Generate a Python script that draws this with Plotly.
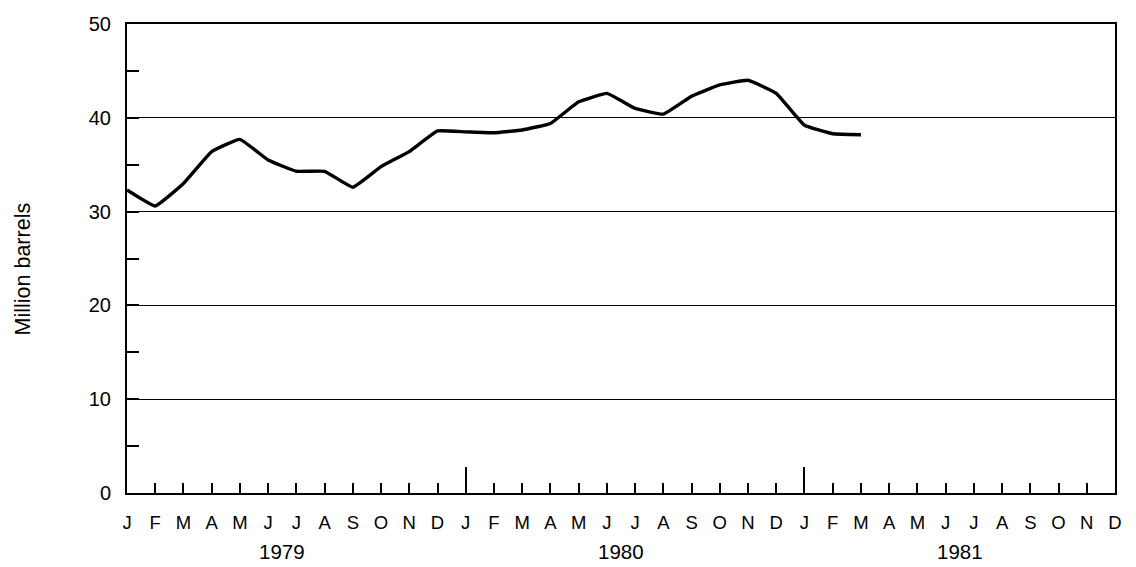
import plotly.graph_objects as go

months = ["J", "F", "M", "A", "M", "J", "J", "A", "S", "O", "N", "D"] * 3
years = ["1979", "1980", "1981"]
month_index = list(range(36))
stocks = [32.3, 30.6, 33.0, 36.4, 37.7, 35.5, 34.3, 34.3, 32.6, 34.8, 36.4, 38.6,
          38.5, 38.4, 38.7, 39.4, 41.7, 42.6, 41.0, 40.4, 42.3, 43.5, 44.0, 42.6,
          39.2, 38.3, 38.2]
year_starts = [0, 12, 24]
y_title = "Million barrels"

font = "Liberation Sans, Arial, sans-serif"

fig = go.Figure()
fig.add_trace(go.Scatter(
    x=month_index[:len(stocks)], y=stocks, mode="lines",
    line=dict(color="black", width=3.4, shape="spline", smoothing=0.3),
    showlegend=False, hoverinfo="skip"))
# invisible trace to carry the secondary axis (long January ticks)
fig.add_trace(go.Scatter(x=[0, 35], y=[0, 0], mode="lines", xaxis="x2",
                         line=dict(width=0), showlegend=False, hoverinfo="skip"))

fig.update_layout(
    width=1136, height=567,
    margin=dict(l=127, r=21, t=24, b=74, autoexpand=False),
    paper_bgcolor="white", plot_bgcolor="white",
    font=dict(family=font, color="black", size=18),
    xaxis=dict(
        range=[0, 35], tickvals=month_index, ticktext=months,
        ticks="inside", ticklen=10, tickwidth=1.5, tickcolor="black",
        showline=True, linewidth=2, linecolor="black", mirror=True,
        showgrid=False, zeroline=False, fixedrange=True, automargin=False,
        ticklabelstandoff=12,
        tickfont=dict(size=18.5, family=font)),
    xaxis2=dict(
        range=[0, 35], overlaying="x", anchor="y", side="bottom",
        tickvals=year_starts[1:], ticks="inside", ticklen=26, tickwidth=1.5,
        tickcolor="black", showticklabels=False, showgrid=False,
        zeroline=False, showline=False, automargin=False),
    yaxis=dict(
        range=[0, 50], tickvals=[0, 10, 20, 30, 40, 50],
        ticks="inside", ticklen=12, tickwidth=1.5, tickcolor="black",
        minor=dict(dtick=5, tick0=0, ticks="inside", ticklen=12,
                   tickwidth=1.5, tickcolor="black"),
        showline=True, linewidth=2, linecolor="black", mirror=True,
        showgrid=True, gridcolor="black", gridwidth=1.3,
        zeroline=False, fixedrange=True, automargin=False,
        ticklabelstandoff=10,
        tickfont=dict(size=20, family=font)),
)

fig.add_annotation(x=-0.1048, y=0.4776, xref="paper", yref="paper",
                   text=y_title, textangle=-90, showarrow=False,
                   xanchor="center", yanchor="middle",
                   font=dict(size=21.5, family=font))

for i, yr in enumerate(years):
    fig.add_annotation(x=year_starts[i] + 5.5, y=-0.097, xref="x", yref="paper",
                       text=yr, showarrow=False, yanchor="top",
                       font=dict(size=20.5, family=font))

fig.write_html("out.html", config={"displayModeBar": False},
               post_script="document.body.style.margin='0';document.body.style.overflow='hidden';")
